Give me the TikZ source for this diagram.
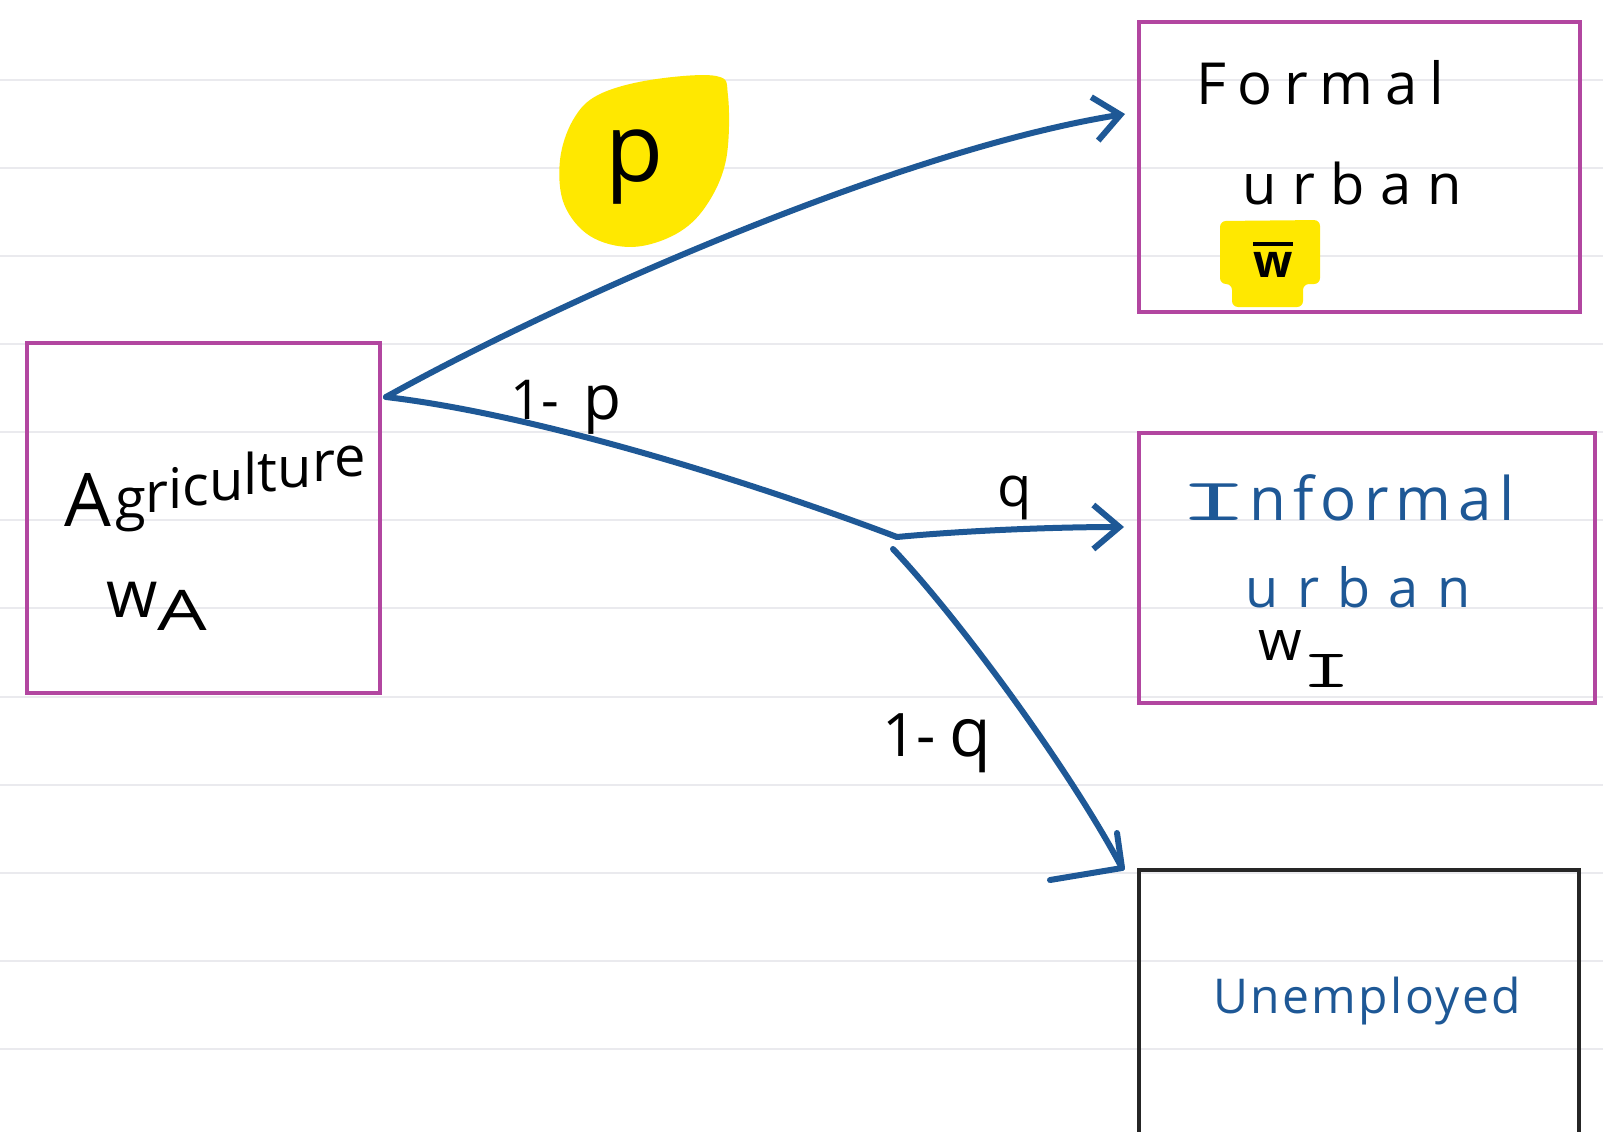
\documentclass[tikz,border=0pt]{standalone}
\usepackage{fontspec}
\usepackage{graphicx}
\setmainfont{Open Sans}
\usetikzlibrary{arrows.meta}
\definecolor{boxpink}{RGB}{178,70,160}
\definecolor{inkblue}{RGB}{30,88,150}
\definecolor{hilite}{RGB}{255,232,0}
\definecolor{ruleline}{RGB}{234,234,238}
\newcommand{\fsz}[1]{\fontsize{#1}{#1}\selectfont}
\newcommand{\lsp}[1]{\addfontfeatures{LetterSpace=#1}}
\newcommand{\barI}[1]{{\ttfamily\scalebox{#1}[1]{I}}}
\newcommand{\upl}[2]{\raisebox{#1pt}{#2}}
\tikzset{
  pbox/.style={draw=boxpink, line width=4pt, rectangle, inner sep=0pt},
  kbox/.style={draw=black!85, line width=4pt, rectangle, inner sep=0pt},
  lbl/.style={inner sep=0pt, text=black},
  bluetxt/.style={inner sep=0pt, text=inkblue},
  conn/.style={draw=inkblue, line width=6pt, line cap=round, line join=round},
  tipped/.style={-{Straight Barb[length=26pt,width=44pt]}},
}
\begin{document}
\begin{tikzpicture}[x=1pt,y=-1pt]
\useasboundingbox (0,0) rectangle (1603,1132);
\clip (0,0) rectangle (1603,1132);
\fill[white] (0,0) rectangle (1603,1132);
\foreach \yy in {80,168,256,344,432,520,608,697,785,873,961,1049}
  \draw[ruleline, line width=2pt] (0,\yy) -- (1603,\yy);

% highlights
\fill[hilite] plot[smooth cycle, tension=0.6] coordinates {(598,95) (650,80) (716,76) (728,96) (726,160) (706,206) (676,234) (632,247) (590,236) (564,204) (560,160) (573,120)};
\fill[hilite, rounded corners=6pt] (1220,221) -- (1320,220) -- (1320,284) -- (1303,284) -- (1303,307) -- (1232,307) -- (1232,284) -- (1220,284) -- cycle;

% boxes
\node[pbox, minimum width=353pt, minimum height=350pt] (agri) at (203.5,518) {};
\node[pbox, minimum width=441pt, minimum height=290pt] (formal) at (1359.5,167) {};
\node[pbox, minimum width=456pt, minimum height=270pt] (informal) at (1367,568) {};
\node[kbox, minimum width=440pt, minimum height=275pt] (unemp) at (1359,1007.5) {};

% box texts
\node[lbl, anchor=base] (tFormal) at (1320,104) {\fsz{58}\lsp{20}Formal};
\node[lbl, anchor=base] (tUrbanF) at (1352,204) {\fsz{56}\lsp{28}urban};
\node[lbl, anchor=base] (tWbar) at (1273,277) {\vbox{\hrule height 4pt\kern 6pt\hbox{\fsz{46}\bfseries w}}};
\node[bluetxt, anchor=base west] (tInformal) at (1178,520) {\fsz{60}\barI{2.3}\lsp{12}nformal};
\node[bluetxt, anchor=base] (tUrbanI) at (1358,607) {\fsz{54}\lsp{34}urban};
\node[lbl, anchor=base west] (tWI) at (1258,660) {\fsz{56}w\raisebox{-27pt}{\fsz{54}\barI{1.8}}};
\node[bluetxt, anchor=base] (tUnemp) at (1367,1013) {\fsz{48}\lsp{5}Unemployed};
\node[lbl, anchor=base west] (tAgri) at (64,526) {\fsz{74}A\hspace{4pt}\fsz{56}\upl{8}{g}\upl{14}{r}\upl{18}{i}\upl{21}{c}\upl{26}{u}\upl{32}{l}\upl{35}{t}\upl{39}{u}\upl{45}{r}\upl{50}{e}};
\node[lbl, anchor=base west] (tWA) at (106,617) {\fsz{66}w\raisebox{-13pt}{\fsz{56}\scalebox{1.4}[1]{A}}};

% branch labels
\node[lbl] (lp) at (635,167) {\fsz{95}p};
\node[lbl, anchor=base west] (l1p) at (510,419) {\fsz{55}1-\hspace{24pt}\fsz{62}p};
\node[lbl] (lq) at (1015,498) {\fsz{56}q};
\node[lbl, anchor=base west] (l1q) at (882,756) {\fsz{60}1-\hspace{14pt}\fsz{68}q};

% connectors
\coordinate (fork) at (386,397);
\coordinate (split) at (897,537);
\coordinate (s2) at (893,549);
\coordinate (tipF) at (1125,114);
\coordinate (tipI) at (1124,527);
\coordinate (tipU) at (1122,868);
\coordinate (barbA) at (1117,833);
\coordinate (barbB) at (1050,880);

\draw[conn, tipped] (fork) .. controls (560,300) and (900,150) .. (tipF);
\draw[conn] (fork) .. controls (540,415) and (760,485) .. (split);
\draw[conn, tipped] (split) .. controls (960,531) and (1050,527) .. (tipI);
\draw[conn] (s2) .. controls (960,620) and (1070,770) .. (tipU);
\draw[conn] (barbA) -- (tipU) -- (barbB);
\end{tikzpicture}
\end{document}
